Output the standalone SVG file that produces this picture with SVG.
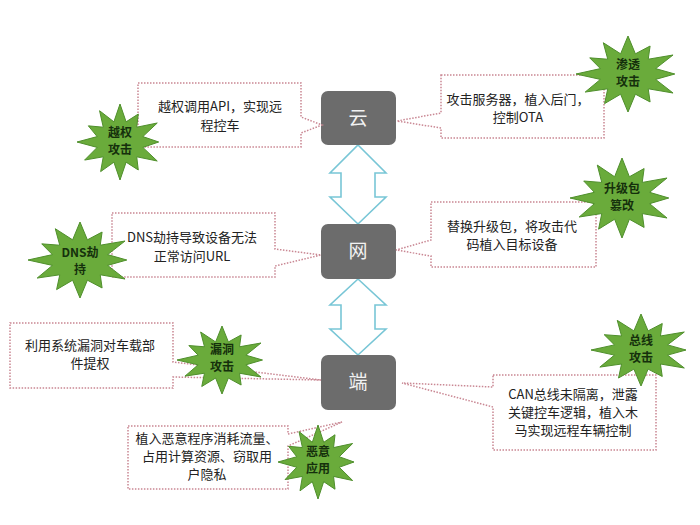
<svg xmlns="http://www.w3.org/2000/svg" xmlns:xlink="http://www.w3.org/1999/xlink" width="700" height="525" viewBox="0 0 700 525">
<style>
.box{fill:#6c6c6c;}
.boxt{fill:#f2f2f2;font-family:"Noto Sans CJK SC",sans-serif;font-size:19px;text-anchor:middle;}
.call{fill:#ffffff;stroke:#c98793;stroke-width:1.5;stroke-dasharray:1.5 1.5;}
.ct{fill:#222;font-family:"Noto Sans CJK SC",sans-serif;font-size:13px;text-anchor:middle;}
.star{fill:#6aab3b;stroke:#4f8f2c;stroke-width:1;vector-effect:non-scaling-stroke;}
.st{fill:#15300c;font-family:"Noto Sans CJK SC",sans-serif;font-size:12px;font-weight:bold;text-anchor:middle;}
.arr{fill:#ffffff;stroke:#78c6d6;stroke-width:1.6;}
</style>
<defs>
<polygon id="star" class="star" points="0,-100 14.2,-53.1 42.5,-73.6 38.9,-38.9 86.6,-50 53.1,-14.2 90,0 53.1,14.2 86.6,50 38.9,38.9 42.5,73.6 14.2,53.1 0,100 -14.2,53.1 -45,77.9 -38.9,38.9 -82.3,47.5 -53.1,14.2 -100,0 -53.1,-14.2 -73.6,-42.5 -38.9,-38.9 -47.5,-82.3 -14.2,-53.1"/>
</defs>
<rect width="700" height="525" fill="#ffffff"/>

<g id="connectors">
<path class="arr" d="M358,145 L386,173 L375,173 L375,197 L386,197 L358,224 L330,197 L341,197 L341,173 L330,173 Z"/>
<path class="arr" d="M358,279 L386,305 L375,305 L375,329 L386,329 L358,355 L330,329 L341,329 L341,305 L330,305 Z"/>
</g>

<g id="node-yun"><rect class="box" x="321" y="91" width="75" height="54" rx="7"/><text class="boxt" x="358" y="125">云</text></g>
<g id="node-wang"><rect class="box" x="321" y="224" width="75" height="55" rx="7"/><text class="boxt" x="358" y="258">网</text></g>
<g id="node-duan"><rect class="box" x="321" y="355" width="75" height="55" rx="7"/><text class="boxt" x="358" y="389">端</text></g>

<g id="callout-api"><path class="call" d="M138,83 H301 V117 L322,125 L301,133 V147 H138 Z"/>
<text class="ct" x="220" y="111">越权调用API，实现远</text><text class="ct" x="220" y="130">程控车</text></g>
<g id="callout-server"><path class="call" d="M441,75 H604 V138 H441 V128 L397,121 L441,113 Z"/>
<text class="ct" x="518" y="104">攻击服务器，植入后门，</text><text class="ct" x="518" y="122">控制OTA</text></g>
<g id="callout-upgrade"><path class="call" d="M431,202 H596 V267 H431 V256 L396,250 L431,240 Z"/>
<text class="ct" x="512" y="231">替换升级包，将攻击代</text><text class="ct" x="512" y="249">码植入目标设备</text></g>
<g id="callout-dns"><path class="call" d="M112,213 H275 V249 L321,255 L275,266 V277 H112 Z"/>
<text class="ct" x="192" y="242">DNS劫持导致设备无法</text><text class="ct" x="192" y="261">正常访问URL</text></g>
<g id="callout-vuln"><path class="call" d="M10,323 H173 V362 L321,380 L173,377 V388 H10 Z"/>
<text class="ct" x="90" y="350">利用系统漏洞对车载部</text><text class="ct" x="90" y="368">件提权</text></g>
<g id="callout-malware"><path class="call" d="M128,426 H288 V434 L342,422 L288,446 V489 H128 Z"/>
<text class="ct" x="207" y="443">植入恶意程序消耗流量、</text><text class="ct" x="207" y="461">占用计算资源、窃取用</text><text class="ct" x="207" y="479">户隐私</text></g>
<g id="callout-can"><path class="call" d="M493,375 H656 V450 H493 V407 L402,383 L493,387 Z"/>
<text class="ct" x="573" y="399">CAN总线未隔离，泄露</text><text class="ct" x="573" y="417">关键控车逻辑，植入木</text><text class="ct" x="573" y="435">马实现远程车辆控制</text></g>

<g id="star-yuequan"><use xlink:href="#star" transform="translate(120,142) scale(0.43,0.38)"/>
<text class="st" x="120" y="137">越权</text><text class="st" x="120" y="154">攻击</text></g>
<g id="star-shentou"><use xlink:href="#star" transform="translate(628,74) scale(0.52,0.38)"/>
<text class="st" x="628" y="69">渗透</text><text class="st" x="628" y="86">攻击</text></g>
<g id="star-shengji"><use xlink:href="#star" transform="translate(622,198) scale(0.52,0.40)"/>
<text class="st" x="622" y="193">升级包</text><text class="st" x="622" y="210">篡改</text></g>
<g id="star-dns"><use xlink:href="#star" transform="translate(80,260) scale(0.52,0.38)"/>
<text class="st" x="80" y="257">DNS劫</text><text class="st" x="80" y="274">持</text></g>
<g id="star-loudong"><use xlink:href="#star" transform="translate(222,360) scale(0.45,0.34)"/>
<text class="st" x="222" y="354">漏洞</text><text class="st" x="222" y="371">攻击</text></g>
<g id="star-zongxian"><use xlink:href="#star" transform="translate(641,350) scale(0.50,0.36)"/>
<text class="st" x="641" y="345">总线</text><text class="st" x="641" y="362">攻击</text></g>
<g id="star-eyi"><use xlink:href="#star" transform="translate(318,462) scale(0.40,0.37)"/>
<text class="st" x="318" y="456">恶意</text><text class="st" x="318" y="473">应用</text></g>
</svg>
